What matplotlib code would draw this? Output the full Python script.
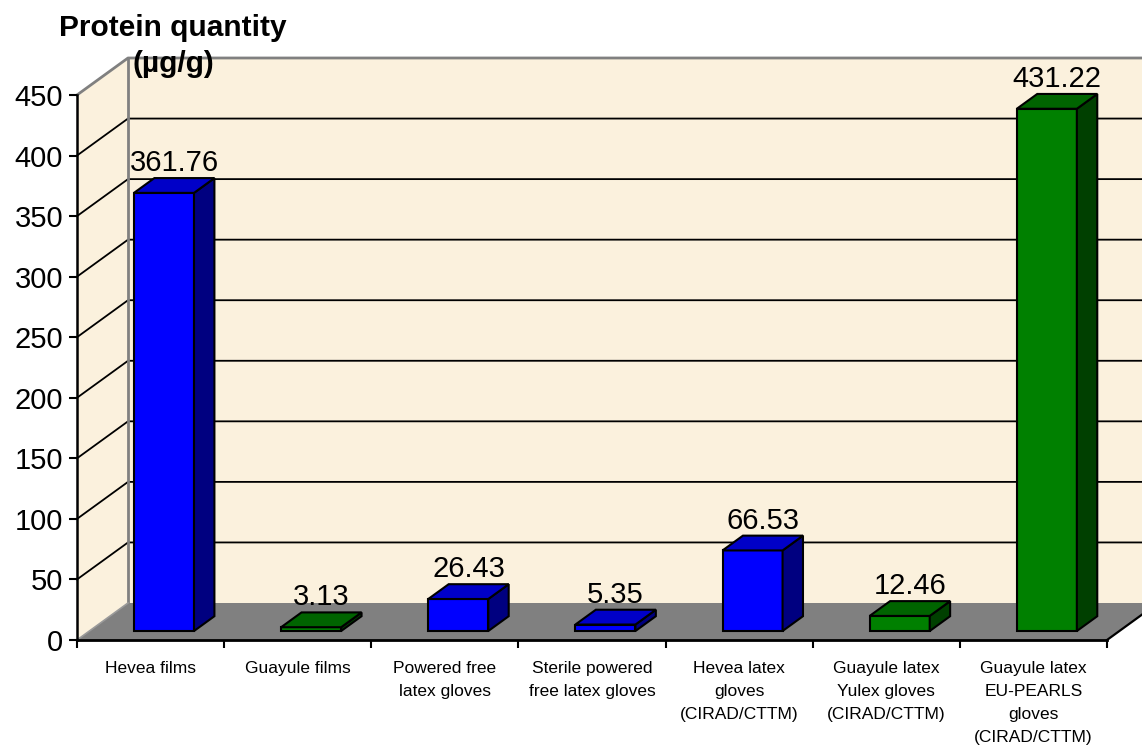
import numpy as np
import matplotlib
matplotlib.use('Agg')
import matplotlib.pyplot as plt
from matplotlib.patches import Polygon

plt.rcParams['font.family'] = ['Liberation Sans', 'DejaVu Sans']

categories = ['Hevea films', 'Guayule films', 'Powered free\nlatex gloves',
              'Sterile powered\nfree latex gloves', 'Hevea latex\ngloves\n(CIRAD/CTTM)',
              'Guayule latex\nYulex gloves\n(CIRAD/CTTM)',
              'Guayule latex\nEU-PEARLS\ngloves\n(CIRAD/CTTM)']
values = [361.76, 3.13, 26.43, 5.35, 66.53, 12.46, 431.22]
source = ['Hevea', 'Guayule', 'Hevea', 'Hevea', 'Hevea', 'Guayule', 'Guayule']
yticks = [0, 50, 100, 150, 200, 250, 300, 350, 400, 450]

# face colours: front, top, side
palette = {
    'Hevea': ('#0000FF', '#0000C8', '#000080'),
    'Guayule': ('#008000', '#006400', '#004000'),
}

wall = '#FBF1DD'
floor = '#808080'

# oblique depth vector, in data units (x: categories, y: values)
DX = 51 / 147.14
DY = 37 / 1.2111
ncat = len(categories)
ymax = yticks[-1]


def P(x, y, d):
    return (x + d * DX, y + d * DY)


fig = plt.figure(figsize=(11.42, 7.52), dpi=100)
ax = fig.add_axes([77 / 1142, 112 / 752, 1030 / 1142, 545 / 752])
ax.set_xlim(0, ncat)
ax.set_ylim(0, ymax)
ax.patch.set_visible(False)


def poly(pts, fc, ec='none', lw=0, z=1):
    ax.add_patch(Polygon(pts, closed=True, facecolor=fc, edgecolor=ec,
                         linewidth=lw, zorder=z, clip_on=False,
                         joinstyle='miter'))


# walls
poly([P(0, 0, 0), P(0, 0, 1), P(0, ymax, 1), P(0, ymax, 0)], wall, z=0)
poly([P(0, 0, 1), P(ncat, 0, 1), P(ncat, ymax, 1), P(0, ymax, 1)], wall, z=0)

# gridlines on side and back walls
for v in yticks[1:-1]:
    xs, ys = zip(P(0, v, 0), P(0, v, 1), P(ncat, v, 1))
    ax.plot(xs, ys, color='black', lw=1.3, zorder=0.5, clip_on=False)
xs, ys = zip(P(0, ymax, 0), P(0, ymax, 1), P(ncat, ymax, 1))
ax.plot(xs, ys, color='#808080', lw=2, zorder=0.5, clip_on=False)
xs, ys = zip(P(0, 0, 1), P(0, ymax, 1))
ax.plot(xs, ys, color='#808080', lw=2, zorder=0.5, clip_on=False)

# floor
poly([P(0, 0, 0), P(ncat, 0, 0), P(ncat, 0, 1), P(0, 0, 1)], floor, z=0.8)
xs, ys = zip(P(ncat, 0, 0), P(ncat, 0, 1))
ax.plot(xs, ys, color='black', lw=1.6, zorder=0.9, clip_on=False)
xs, ys = zip(P(0, 0, 0), P(0, 0, 1))
ax.plot(xs, ys, color='#9a9a9a', lw=1.2, zorder=0.9, clip_on=False)

# 3-D bars
left, width = 0.303, 0.408
d0, d1 = 0.243, 0.643
for i, (v, src) in enumerate(zip(values, source)):
    front, top, side = palette[src]
    l, r = i + left, i + left + width
    poly([P(l, 0, d0), P(r, 0, d0), P(r, v, d0), P(l, v, d0)], front, 'black', 1.5, 3)
    poly([P(r, 0, d0), P(r, 0, d1), P(r, v, d1), P(r, v, d0)], side, 'black', 1.5, 3)
    poly([P(l, v, d0), P(r, v, d0), P(r, v, d1), P(l, v, d1)], top, 'black', 1.5, 3)
    lx, _ = P((l + r) / 2, v, (d0 + d1) / 2)
    _, ly = P(l, v, d1)
    ax.annotate(f'{v:.2f}', (lx, ly), xytext=(0, 5), textcoords='offset points',
                ha='center', va='baseline', fontsize=21, zorder=5,
                annotation_clip=False)

# axes
for s in ['top', 'right']:
    ax.spines[s].set_visible(False)
ax.spines['left'].set_linewidth(1.8)
ax.spines['bottom'].set_linewidth(2)
ax.spines['left'].set_zorder(2)
ax.spines['bottom'].set_zorder(2)

ax.set_yticks(yticks)
ax.tick_params(axis='y', length=6, width=1.5, pad=4, labelsize=21)
ax.set_xticks(np.arange(ncat + 1))
ax.set_xticklabels([])
ax.set_xticks(np.arange(ncat) + 0.5, minor=True)
ax.set_xticklabels(categories, minor=True, fontsize=12.5)
ax.tick_params(axis='x', which='major', length=6, width=1.5)
ax.tick_params(axis='x', which='minor', length=0, pad=15)
for t in ax.get_xticklabels(minor=True):
    t.set_linespacing(1.68)
    t.set_verticalalignment('top')

fig.text(173 / 1142, 1 - 28 / 752, 'Protein quantity', ha='center', va='center',
         fontsize=21.5, fontweight='bold', zorder=10)
fig.text(173 / 1142, 1 - 64 / 752, '(µg/g)', ha='center', va='center',
         fontsize=21.5, fontweight='bold', zorder=10)

fig.savefig('out.png', dpi=100)
